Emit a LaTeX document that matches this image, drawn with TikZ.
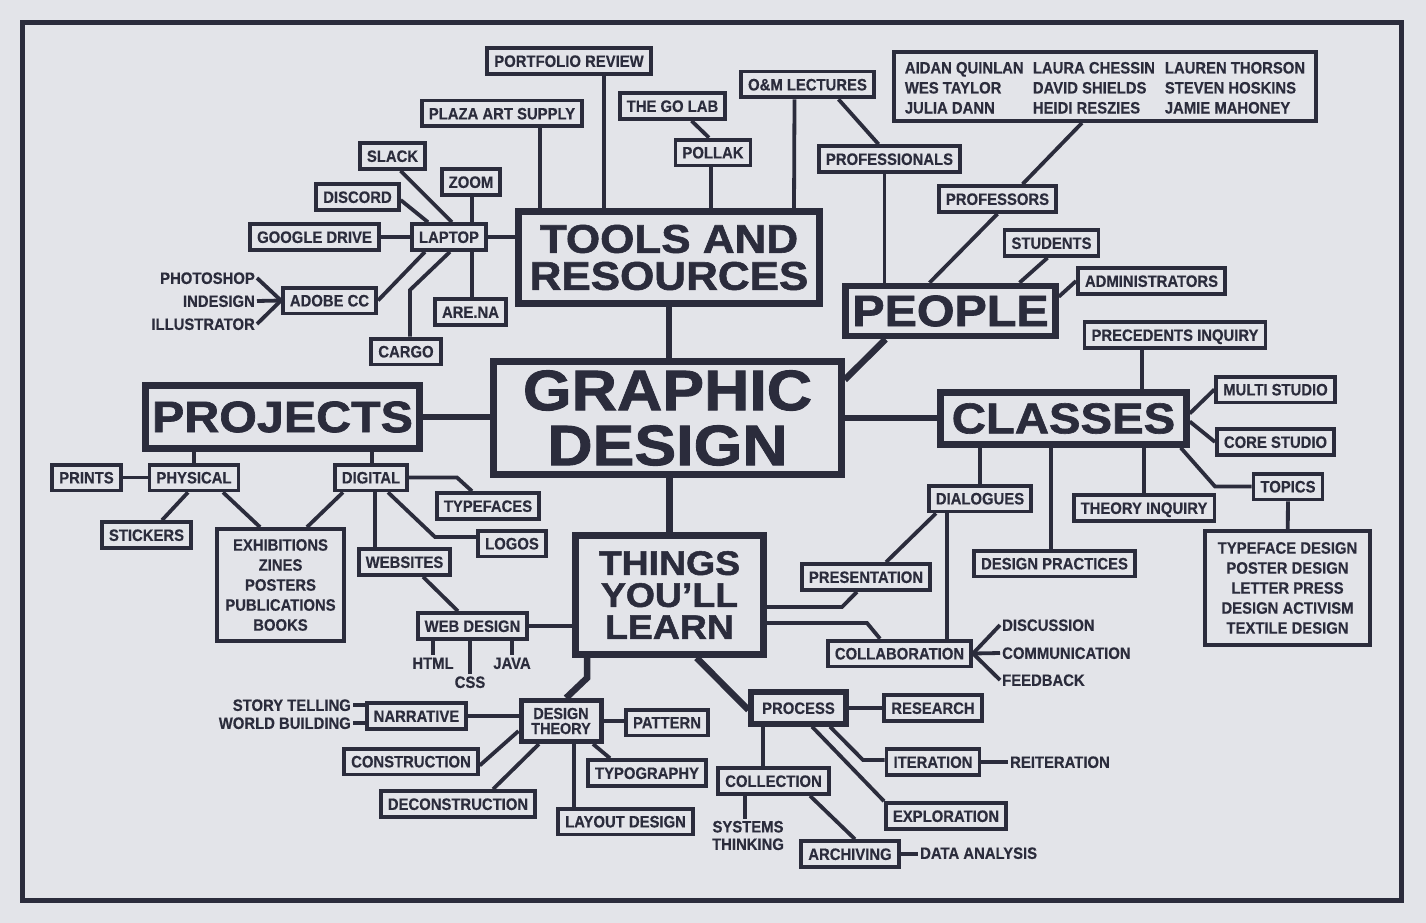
\documentclass[tikz,border=0pt]{standalone}
\usepackage{fontspec}
\setmainfont{Liberation Sans}
\newfontfamily\labelfont[FakeStretch=0.9,FakeBold=0.4]{Liberation Sans}
\newfontfamily\hubfont[FakeStretch=1.1,FakeBold=1.5]{Liberation Sans}
\definecolor{inkNavy}{HTML}{2B2C3C}
\definecolor{paperGrey}{HTML}{E3E4E9}

\begin{document}
\begin{tikzpicture}[x=1pt, y=-1pt,
  every node/.style={text=inkNavy, font=\labelfont\bfseries\fontsize{16.5}{20}\selectfont},
  leaf/.style={draw=inkNavy, line width=3.8pt, inner xsep=7pt, inner ysep=7pt, text height=11.8pt, text depth=0pt},
  plain/.style={inner sep=2pt, text height=11.8pt, text depth=0pt},
  plainstack/.style={inner sep=2pt, align=center, font=\labelfont\bfseries\fontsize{16.5}{17.5}\selectfont},
  listbox/.style={draw=inkNavy, line width=3.8pt, align=center, inner sep=0pt},
  hub/.style={draw=inkNavy, line width=6.5pt, align=center, inner sep=0pt},
  link/.style={draw=inkNavy, line width=3.8pt},
  trunk/.style={draw=inkNavy, line width=6.5pt}]
  % paper and frame
  \fill[paperGrey] (0,0) rectangle (1426,923);
  \draw[inkNavy, line width=5pt] (22.5,22.5) rectangle (1401.5,900);

  % Hubs
  \node[hub, minimum width=348pt, minimum height=113pt, font=\hubfont\bfseries\fontsize{57}{55}\selectfont] (graphic) at (667.5,418) {GRAPHIC\\DESIGN};
  \node[hub, minimum width=301pt, minimum height=92pt, font=\hubfont\bfseries\fontsize{40}{37}\selectfont] (tools) at (669,257.5) {TOOLS AND\\RESOURCES};
  \node[hub, minimum width=210pt, minimum height=50pt, font=\hubfont\bfseries\fontsize{44}{44}\selectfont] (people) at (950.5,311) {PEOPLE};
  \node[hub, minimum width=274pt, minimum height=63pt, font=\hubfont\bfseries\fontsize{44}{44}\selectfont] (projects) at (282.5,417) {PROJECTS};
  \node[hub, minimum width=246pt, minimum height=52pt, font=\hubfont\bfseries\fontsize{43}{43}\selectfont] (classes) at (1063.5,418.5) {CLASSES};
  \node[hub, minimum width=188pt, minimum height=119pt, font=\hubfont\bfseries\fontsize{34}{32}\selectfont] (things) at (669.5,595) {THINGS\\YOU’LL\\LEARN};
  \draw[trunk] (tools.south) -- (tools.south |- graphic.north);
  \draw[trunk] (things.north |- graphic.south) -- (things.north);
  \draw[trunk] (projects.east) -- (projects.east -| graphic.west);
  \draw[trunk] (graphic.east) -- (graphic.east -| classes.west);
  \draw[trunk] ([yshift=-21.5pt]graphic.north east) -- ([xshift=-65pt]people.south);

  % Tools and resources
  \node[leaf] (portfolio) at (569,61) {PORTFOLIO REVIEW};
  \node[leaf] (plaza) at (502,113.5) {PLAZA ART SUPPLY};
  \node[leaf] (golab) at (672.5,106) {THE GO LAB};
  \node[leaf] (pollak) at (713,152.5) {POLLAK};
  \node[leaf] (omlect) at (807.5,84.5) {O\&M LECTURES};
  \node[leaf] (professionals) at (889.5,159) {PROFESSIONALS};
  \node[leaf] (slack) at (392.5,156) {SLACK};
  \node[leaf] (zoom) at (471,182) {ZOOM};
  \node[leaf] (discord) at (357.5,197) {DISCORD};
  \node[leaf] (gdrive) at (314.5,237) {GOOGLE DRIVE};
  \node[leaf] (laptop) at (449,237) {LAPTOP};
  \node[leaf] (adobe) at (329.5,300.5) {ADOBE CC};
  \node[leaf] (arena) at (470.5,312) {ARE.NA};
  \node[leaf] (cargo) at (406,351.5) {CARGO};
  \node[plain, anchor=east] (photoshop) at (257,278) {PHOTOSHOP};
  \node[plain, anchor=east] (indesign) at (257,301) {INDESIGN};
  \node[plain, anchor=east] (illustrator) at (257,324) {ILLUSTRATOR};
  \coordinate (cargobend) at (410,290);
  \draw[link] ([xshift=35pt]portfolio.south) -- ([xshift=-65pt]tools.north);
  \draw[link] ([xshift=38pt]plaza.south) -- ([xshift=-129pt]tools.north);
  \draw[link] ([xshift=19pt]golab.south) -- ([xshift=-4pt]pollak.north);
  \draw[link] ([xshift=-2pt]pollak.south) -- ([xshift=42pt]tools.north);
  \draw[link] ([xshift=-13pt]omlect.south) -- ([xshift=125pt]tools.north);
  \draw[link] ([xshift=31pt]omlect.south) -- ([xshift=-11pt]professionals.north);
  \draw[link] ([xshift=-5pt]professionals.south) -- ([xshift=-66pt]people.north);
  \draw[link] (gdrive) -- (laptop);
  \draw[link] (laptop.east) -- (laptop.east -| tools.west);
  \draw[link] ([yshift=-3pt]discord.east) -- ([xshift=-21pt]laptop.north);
  \draw[link] ([xshift=8pt]slack.south) -- ([xshift=3pt]laptop.north);
  \draw[link] ([xshift=1pt]zoom.south) -- ([xshift=23pt]laptop.north);
  \draw[link] ([xshift=-24pt]laptop.south) -- (adobe.east);
  \draw[link] ([xshift=1pt]laptop.south) -- (cargobend) -- (cargobend |- cargo.north);
  \draw[link] ([xshift=23pt]laptop.south) -- ([xshift=1.5pt]arena.north);
  \draw[link] (photoshop.east) -- (adobe.west);
  \draw[link] (indesign.east) -- (adobe.west);
  \draw[link] (illustrator.east) -- (adobe.west);

  % People
  \node[draw=inkNavy, line width=3.8pt, minimum width=422pt, minimum height=69pt, inner sep=0pt] (names) at (1105,86.5)
    {\raisebox{-3pt}[\height][\depth]{\begin{tabular}{@{}p{128pt}@{}p{132pt}@{}l@{}}
      AIDAN QUINLAN & LAURA CHESSIN & LAUREN THORSON\\
      WES TAYLOR & DAVID SHIELDS & STEVEN HOSKINS\\
      JULIA DANN & HEIDI RESZIES & JAMIE MAHONEY
    \end{tabular}}};
  \node[leaf] (professors) at (997.5,199) {PROFESSORS};
  \node[leaf] (students) at (1051.5,243) {STUDENTS};
  \node[leaf] (admins) at (1151.5,281) {ADMINISTRATORS};
  \draw[link] ([xshift=-23pt]names.south) -- ([xshift=25pt]professors.north);
  \draw[link] (professors.south) -- ([xshift=-21pt]people.north);
  \draw[link] ([xshift=-4pt]students.south) -- ([xshift=69pt]people.north);
  \draw[link] ([yshift=-14pt]people.north east) -- (admins.west);

  % Classes
  \node[leaf] (precedents) at (1175,335) {PRECEDENTS INQUIRY};
  \node[leaf] (multistudio) at (1275.5,389.5) {MULTI STUDIO};
  \node[leaf] (corestudio) at (1275.5,442) {CORE STUDIO};
  \node[leaf] (topics) at (1288,486.5) {TOPICS};
  \node[listbox, minimum width=165pt, minimum height=114pt] (topiclist) at (1287.5,588)
    {TYPEFACE DESIGN\\POSTER DESIGN\\LETTER PRESS\\DESIGN ACTIVISM\\TEXTILE DESIGN};
  \node[leaf] (theory) at (1144,508) {THEORY INQUIRY};
  \node[leaf] (dialogues) at (980,498.5) {DIALOGUES};
  \node[leaf] (practices) at (1054.5,563.5) {DESIGN PRACTICES};
  \node[leaf] (presentation) at (866,577) {PRESENTATION};
  \node[leaf] (collab) at (899.5,653.5) {COLLABORATION};
  \node[plain, anchor=west] (discussion) at (1000,625) {DISCUSSION};
  \node[plain, anchor=west] (communication) at (1000,653) {COMMUNICATION};
  \node[plain, anchor=west] (feedback) at (1000,680) {FEEDBACK};
  \coordinate (topicsbend) at (1215,486.5);
  \coordinate (presbend) at (842,607);
  \coordinate (collabbend) at (867,623);
  \draw[link] ([xshift=-33pt]precedents.south) -- ([xshift=78.5pt]classes.north);
  \draw[link] ([yshift=5pt]classes.east) -- (multistudio.west);
  \draw[link] ([yshift=-3pt]classes.east) -- (corestudio.west);
  \draw[link] ([xshift=-9pt]classes.south east) -- (topicsbend) -- (topics.west);
  \draw[link] (topics) -- (topiclist);
  \draw[link] ([xshift=-83.5pt]classes.south) -- (dialogues.north);
  \draw[link] ([xshift=-12.5pt]classes.south) -- ([xshift=-3.5pt]practices.north);
  \draw[link] ([xshift=80.5pt]classes.south) -- (theory.north);
  \draw[link] ([xshift=-33pt]dialogues.south) -- ([xshift=47.5pt]collab.north);
  \draw[link] ([xshift=-44pt]dialogues.south) -- ([xshift=20pt]presentation.north);
  \draw[link] ([xshift=-9pt]presentation.south) -- (presbend) -- (presbend -| things.east);
  \draw[link] (collabbend -| things.east) -- (collabbend) -- ([xshift=-19.5pt]collab.north);
  \draw[link] (discussion.west) -- (collab.east);
  \draw[link] (communication.west) -- (collab.east);
  \draw[link] (feedback.west) -- (collab.east);

  % Projects
  \node[leaf] (prints) at (86.5,477.5) {PRINTS};
  \node[leaf] (physical) at (194,477.5) {PHYSICAL};
  \node[leaf] (digital) at (371,477.5) {DIGITAL};
  \node[leaf] (stickers) at (146.5,535) {STICKERS};
  \node[listbox, minimum width=127pt, minimum height=112pt] (outputs) at (280.5,585)
    {EXHIBITIONS\\ZINES\\POSTERS\\PUBLICATIONS\\BOOKS};
  \node[leaf] (typefaces) at (488,506) {TYPEFACES};
  \node[leaf] (logos) at (512,543.5) {LOGOS};
  \node[leaf] (websites) at (404.5,562) {WEBSITES};
  \coordinate (typebend) at (457,477.5);
  \coordinate (logobend) at (435,537);
  \draw[link] ([xshift=-88.5pt]projects.south) -- (physical.north);
  \draw[link] ([xshift=89.5pt]projects.south) -- ([xshift=1pt]digital.north);
  \draw[link] (prints) -- (physical);
  \draw[link] ([xshift=-6pt]physical.south) -- ([xshift=15.5pt]stickers.north);
  \draw[link] ([xshift=29pt]physical.south) -- ([xshift=-20.5pt]outputs.north);
  \draw[link] ([xshift=-28pt]digital.south) -- ([xshift=26.5pt]outputs.north);
  \draw[link] (digital.east) -- (typebend) -- ([xshift=-16pt]typefaces.north);
  \draw[link] ([xshift=17pt]digital.south) -- (logobend) -- (logobend -| logos.west);
  \draw[link] ([xshift=4pt]digital.south) -- ([xshift=-29.5pt]websites.north);

  % Things you'll learn
  \node[leaf] (webdesign) at (472.5,626) {WEB DESIGN};
  \node[plain] (html) at (433,663) {HTML};
  \node[plain] (css) at (470,682) {CSS};
  \node[plain] (java) at (512,663) {JAVA};
  \draw[link] ([xshift=18.5pt]websites.south) -- ([xshift=-14.5pt]webdesign.north);
  \draw[link] (webdesign.east) -- (webdesign.east -| things.west);
  \draw[link] (html.north |- webdesign.south) -- (html.north);
  \draw[link] (css.north |- webdesign.south) -- (css.north);
  \draw[link] (java.north |- webdesign.south) -- (java.north);

  \node[draw=inkNavy, line width=5pt, align=center, minimum width=80pt, minimum height=41pt, inner sep=0pt,
    font=\labelfont\bfseries\fontsize{16}{15}\selectfont] (dt) at (561,721) {DESIGN\\THEORY};
  \node[leaf] (narrative) at (416.5,716) {NARRATIVE};
  \node[plain, anchor=east] (storytelling) at (353,705) {STORY TELLING};
  \node[plain, anchor=east] (worldbuilding) at (353,723) {WORLD BUILDING};
  \node[leaf] (construction) at (411,761.5) {CONSTRUCTION};
  \node[leaf] (deconstruction) at (458,804) {DECONSTRUCTION};
  \node[leaf] (layout) at (625.5,821.5) {LAYOUT DESIGN};
  \node[leaf] (typography) at (647,773) {TYPOGRAPHY};
  \node[leaf] (pattern) at (667,722.5) {PATTERN};
  \coordinate (dtbend) at (587,678);
  \draw[trunk] ([xshift=-82.5pt]things.south) -- (dtbend) -- ([xshift=5pt]dt.north);
  \draw[link] (storytelling.east) -- (storytelling.east -| narrative.west);
  \draw[link] (worldbuilding.east) -- (worldbuilding.east -| narrative.west);
  \draw[link] (narrative.east) -- (narrative.east -| dt.west);
  \draw[link] ([yshift=-4pt]construction.east) -- ([yshift=-10pt]dt.west);
  \draw[link] ([xshift=35pt]deconstruction.north) -- ([xshift=-22pt]dt.south);
  \draw[link] ([xshift=13pt]dt.south) -- ([xshift=-51.5pt]layout.north);
  \draw[link] ([xshift=32pt]dt.south) -- ([xshift=-37pt]typography.north);
  \draw[link] (dt.east) -- (dt.east -| pattern.west);

  \node[leaf, line width=5.5pt, inner xsep=11pt, inner ysep=10pt] (process) at (798.5,708) {PROCESS};
  \node[leaf] (research) at (933,708) {RESEARCH};
  \node[leaf] (iteration) at (933,762) {ITERATION};
  \node[plain, anchor=west] (reiteration) at (1008,762) {REITERATION};
  \node[leaf] (exploration) at (946,816) {EXPLORATION};
  \node[leaf] (collection) at (773.5,781) {COLLECTION};
  \node[plainstack] (systems) at (748,835.5) {SYSTEMS\\THINKING};
  \node[leaf] (archiving) at (850,854) {ARCHIVING};
  \node[plain, anchor=west] (dataanalysis) at (918,853) {DATA ANALYSIS};
  \coordinate (iterbend) at (863,760);
  \draw[trunk] ([xshift=27pt]things.south) -- ([yshift=-2pt]process.west);
  \draw[link] (process) -- (research);
  \draw[link] ([xshift=31.5pt]process.south) -- (iterbend) -- (iterbend -| iteration.west);
  \draw[link] (iteration) -- (reiteration);
  \draw[link] ([xshift=13.5pt]process.south) -- (exploration.north west);
  \draw[link] ([xshift=-35.5pt]process.south) -- ([xshift=-10.5pt]collection.north);
  \draw[link] ([xshift=-28.5pt]collection.south) -- ([xshift=-3pt]systems.north);
  \draw[link] ([xshift=36.5pt]collection.south) -- ([xshift=5pt]archiving.north);
  \draw[link] (archiving.east) -- (archiving.east -| dataanalysis.west);
\end{tikzpicture}
\end{document}
